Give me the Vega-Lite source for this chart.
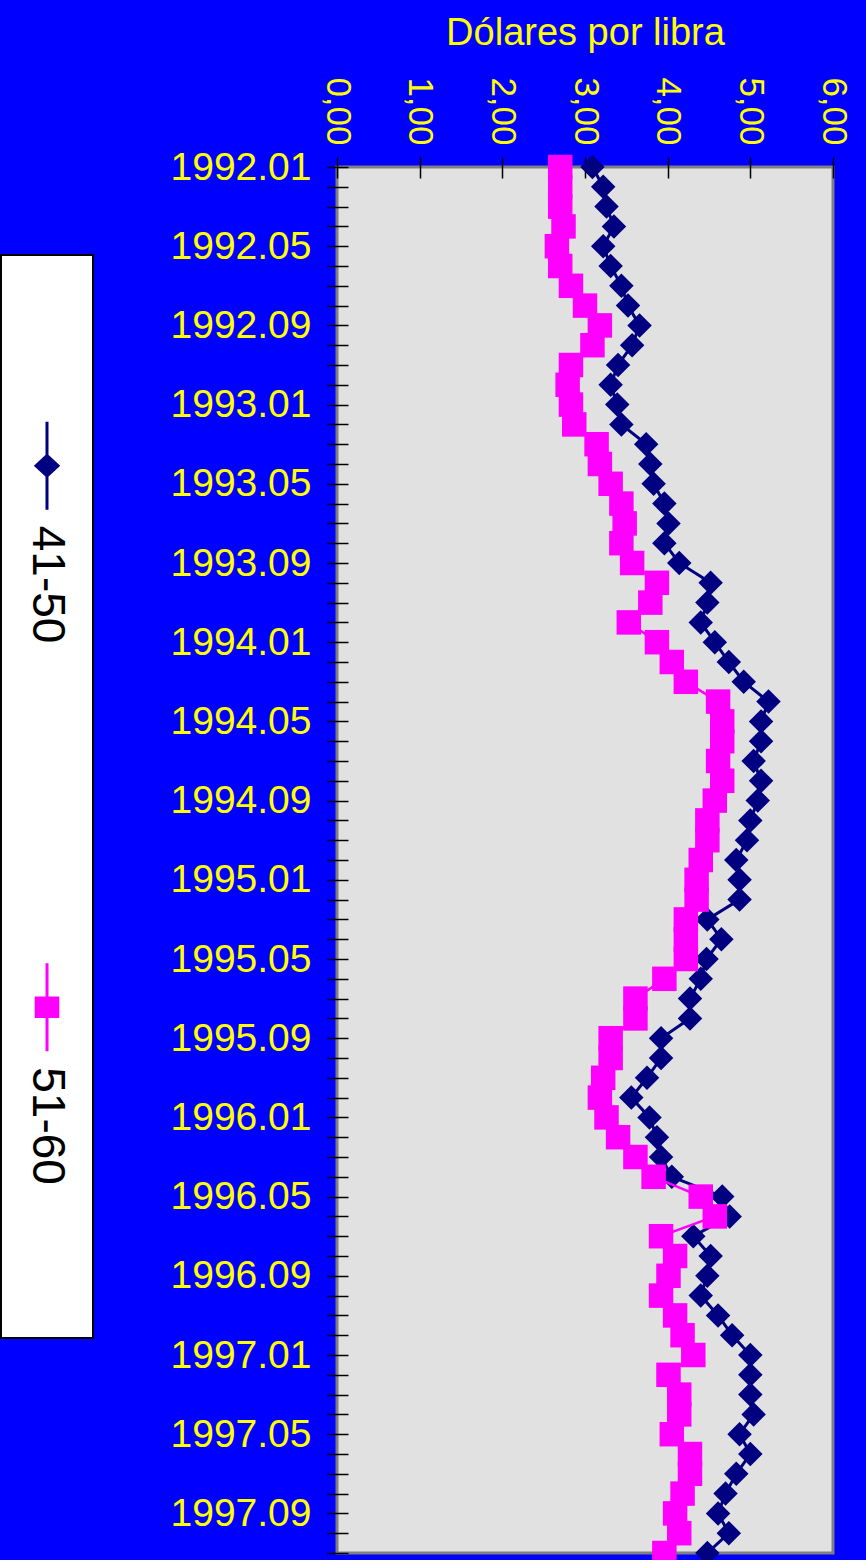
{
  "$schema": "https://vega.github.io/schema/vega-lite/v6.json",
  "background": "#0000FF",
  "padding": {"left": 0, "top": 0, "right": 40, "bottom": 0},
  "bounds": "flush",
  "spacing": 336,
  "config": {"font": "Liberation Sans"},
  "resolve": {"scale": {"shape": "independent", "color": "independent", "stroke": "independent"}},
  "hconcat": [
    {
      "spacing": 0,
      "bounds": "flush",
      "vconcat": [
        {"width": 92, "height": 255, "data": {"values": []}, "mark": "point", "view": {"stroke": null, "fill": null}},
        {
          "width": 92,
          "height": 1083,
          "view": {"fill": "#FFFFFF", "stroke": "#000000", "strokeWidth": 2},
          "data": {"values": [{"serie": "41-50"}, {"serie": "51-60"}]},
          "encoding": {
            "y": {"field": "serie", "type": "nominal", "scale": {"type": "point", "padding": 0.5}, "axis": null}
          },
          "layer": [
            {
              "mark": {"type": "point", "filled": true, "opacity": 1, "size": 7744, "strokeWidth": 3, "yOffset": -60},
              "encoding": {
                "shape": {"field": "serie", "type": "nominal", "legend": null,
                  "scale": {"domain": ["41-50", "51-60"], "range": ["M0,-1L0,1M-0.25,0L0,-0.23L0.25,0L0,0.23Z", "M0,-1L0,1M-0.245,-0.21L0.245,-0.21L0.245,0.21L-0.245,0.21Z"]}},
                "color": {"field": "serie", "type": "nominal", "legend": null,
                  "scale": {"domain": ["41-50", "51-60"], "range": ["#000080", "#FF00FF"]}},
                "stroke": {"field": "serie", "type": "nominal", "legend": null,
                  "scale": {"domain": ["41-50", "51-60"], "range": ["#000080", "#FF00FF"]}}
              }
            },
            {
              "mark": {"type": "text", "angle": 90, "align": "left", "baseline": "middle", "fontSize": 46, "font": "Liberation Sans", "color": "#000000"},
              "encoding": {"text": {"field": "serie"}}
            }
          ]
        }
      ]
    },
    {
      "spacing": 0,
      "bounds": "flush",
      "vconcat": [
        {"width": 496, "height": 167, "data": {"values": []}, "mark": "point", "view": {"stroke": null, "fill": null}},
        {
          "width": 496,
          "height": 1386,
          "view": {"fill": "#E1E1E1", "stroke": "#7F7F7F", "strokeWidth": 3},
          "data": {"values": [
            {"mes":"1992.01","serie":"41-50","valor":3.09},{"mes":"1992.02","serie":"41-50","valor":3.22},{"mes":"1992.03","serie":"41-50","valor":3.26},{"mes":"1992.04","serie":"41-50","valor":3.35},
            {"mes":"1992.05","serie":"41-50","valor":3.22},{"mes":"1992.06","serie":"41-50","valor":3.31},{"mes":"1992.07","serie":"41-50","valor":3.44},{"mes":"1992.08","serie":"41-50","valor":3.52},
            {"mes":"1992.09","serie":"41-50","valor":3.66},{"mes":"1992.10","serie":"41-50","valor":3.57},{"mes":"1992.11","serie":"41-50","valor":3.40},{"mes":"1992.12","serie":"41-50","valor":3.31},
            {"mes":"1993.01","serie":"41-50","valor":3.39},{"mes":"1993.02","serie":"41-50","valor":3.44},{"mes":"1993.03","serie":"41-50","valor":3.74},{"mes":"1993.04","serie":"41-50","valor":3.79},
            {"mes":"1993.05","serie":"41-50","valor":3.83},{"mes":"1993.06","serie":"41-50","valor":3.96},{"mes":"1993.07","serie":"41-50","valor":4.01},{"mes":"1993.08","serie":"41-50","valor":3.96},
            {"mes":"1993.09","serie":"41-50","valor":4.14},{"mes":"1993.10","serie":"41-50","valor":4.52},{"mes":"1993.11","serie":"41-50","valor":4.48},{"mes":"1993.12","serie":"41-50","valor":4.40},
            {"mes":"1994.01","serie":"41-50","valor":4.57},{"mes":"1994.02","serie":"41-50","valor":4.74},{"mes":"1994.03","serie":"41-50","valor":4.92},{"mes":"1994.04","serie":"41-50","valor":5.22},
            {"mes":"1994.05","serie":"41-50","valor":5.13},{"mes":"1994.06","serie":"41-50","valor":5.13},{"mes":"1994.07","serie":"41-50","valor":5.04},{"mes":"1994.08","serie":"41-50","valor":5.13},
            {"mes":"1994.09","serie":"41-50","valor":5.09},{"mes":"1994.10","serie":"41-50","valor":5.00},{"mes":"1994.11","serie":"41-50","valor":4.96},{"mes":"1994.12","serie":"41-50","valor":4.83},
            {"mes":"1995.01","serie":"41-50","valor":4.87},{"mes":"1995.02","serie":"41-50","valor":4.87},{"mes":"1995.03","serie":"41-50","valor":4.48},{"mes":"1995.04","serie":"41-50","valor":4.65},
            {"mes":"1995.05","serie":"41-50","valor":4.47},{"mes":"1995.06","serie":"41-50","valor":4.40},{"mes":"1995.07","serie":"41-50","valor":4.27},{"mes":"1995.08","serie":"41-50","valor":4.27},
            {"mes":"1995.09","serie":"41-50","valor":3.92},{"mes":"1995.10","serie":"41-50","valor":3.92},{"mes":"1995.11","serie":"41-50","valor":3.75},{"mes":"1995.12","serie":"41-50","valor":3.56},
            {"mes":"1996.01","serie":"41-50","valor":3.78},{"mes":"1996.02","serie":"41-50","valor":3.87},{"mes":"1996.03","serie":"41-50","valor":3.92},{"mes":"1996.04","serie":"41-50","valor":4.05},
            {"mes":"1996.05","serie":"41-50","valor":4.66},{"mes":"1996.06","serie":"41-50","valor":4.75},{"mes":"1996.07","serie":"41-50","valor":4.31},{"mes":"1996.08","serie":"41-50","valor":4.52},
            {"mes":"1996.09","serie":"41-50","valor":4.48},{"mes":"1996.10","serie":"41-50","valor":4.40},{"mes":"1996.11","serie":"41-50","valor":4.61},{"mes":"1996.12","serie":"41-50","valor":4.78},
            {"mes":"1997.01","serie":"41-50","valor":5.00},{"mes":"1997.02","serie":"41-50","valor":5.00},{"mes":"1997.03","serie":"41-50","valor":5.00},{"mes":"1997.04","serie":"41-50","valor":5.04},
            {"mes":"1997.05","serie":"41-50","valor":4.87},{"mes":"1997.06","serie":"41-50","valor":5.00},{"mes":"1997.07","serie":"41-50","valor":4.83},{"mes":"1997.08","serie":"41-50","valor":4.70},
            {"mes":"1997.09","serie":"41-50","valor":4.61},{"mes":"1997.10","serie":"41-50","valor":4.74},{"mes":"1997.11","serie":"41-50","valor":4.48},
            {"mes":"1992.01","serie":"51-60","valor":2.70},{"mes":"1992.02","serie":"51-60","valor":2.70},{"mes":"1992.03","serie":"51-60","valor":2.70},{"mes":"1992.04","serie":"51-60","valor":2.74},
            {"mes":"1992.05","serie":"51-60","valor":2.66},{"mes":"1992.06","serie":"51-60","valor":2.70},{"mes":"1992.07","serie":"51-60","valor":2.83},{"mes":"1992.08","serie":"51-60","valor":3.00},
            {"mes":"1992.09","serie":"51-60","valor":3.18},{"mes":"1992.10","serie":"51-60","valor":3.09},{"mes":"1992.11","serie":"51-60","valor":2.83},{"mes":"1992.12","serie":"51-60","valor":2.79},
            {"mes":"1993.01","serie":"51-60","valor":2.83},{"mes":"1993.02","serie":"51-60","valor":2.87},{"mes":"1993.03","serie":"51-60","valor":3.14},{"mes":"1993.04","serie":"51-60","valor":3.18},
            {"mes":"1993.05","serie":"51-60","valor":3.31},{"mes":"1993.06","serie":"51-60","valor":3.44},{"mes":"1993.07","serie":"51-60","valor":3.48},{"mes":"1993.08","serie":"51-60","valor":3.44},
            {"mes":"1993.09","serie":"51-60","valor":3.57},{"mes":"1993.10","serie":"51-60","valor":3.87},{"mes":"1993.11","serie":"51-60","valor":3.79},{"mes":"1993.12","serie":"51-60","valor":3.53},
            {"mes":"1994.01","serie":"51-60","valor":3.87},{"mes":"1994.02","serie":"51-60","valor":4.05},{"mes":"1994.03","serie":"51-60","valor":4.22},{"mes":"1994.04","serie":"51-60","valor":4.61},
            {"mes":"1994.05","serie":"51-60","valor":4.66},{"mes":"1994.06","serie":"51-60","valor":4.66},{"mes":"1994.07","serie":"51-60","valor":4.61},{"mes":"1994.08","serie":"51-60","valor":4.66},
            {"mes":"1994.09","serie":"51-60","valor":4.57},{"mes":"1994.10","serie":"51-60","valor":4.48},{"mes":"1994.11","serie":"51-60","valor":4.48},{"mes":"1994.12","serie":"51-60","valor":4.40},
            {"mes":"1995.01","serie":"51-60","valor":4.35},{"mes":"1995.02","serie":"51-60","valor":4.35},{"mes":"1995.03","serie":"51-60","valor":4.22},{"mes":"1995.04","serie":"51-60","valor":4.22},
            {"mes":"1995.05","serie":"51-60","valor":4.22},{"mes":"1995.06","serie":"51-60","valor":3.96},{"mes":"1995.07","serie":"51-60","valor":3.61},{"mes":"1995.08","serie":"51-60","valor":3.61},
            {"mes":"1995.09","serie":"51-60","valor":3.31},{"mes":"1995.10","serie":"51-60","valor":3.31},{"mes":"1995.11","serie":"51-60","valor":3.22},{"mes":"1995.12","serie":"51-60","valor":3.18},
            {"mes":"1996.01","serie":"51-60","valor":3.26},{"mes":"1996.02","serie":"51-60","valor":3.40},{"mes":"1996.03","serie":"51-60","valor":3.61},{"mes":"1996.04","serie":"51-60","valor":3.83},
            {"mes":"1996.05","serie":"51-60","valor":4.40},{"mes":"1996.06","serie":"51-60","valor":4.57},{"mes":"1996.07","serie":"51-60","valor":3.92},{"mes":"1996.08","serie":"51-60","valor":4.09},
            {"mes":"1996.09","serie":"51-60","valor":4.01},{"mes":"1996.10","serie":"51-60","valor":3.92},{"mes":"1996.11","serie":"51-60","valor":4.09},{"mes":"1996.12","serie":"51-60","valor":4.18},
            {"mes":"1997.01","serie":"51-60","valor":4.31},{"mes":"1997.02","serie":"51-60","valor":4.01},{"mes":"1997.03","serie":"51-60","valor":4.14},{"mes":"1997.04","serie":"51-60","valor":4.14},
            {"mes":"1997.05","serie":"51-60","valor":4.05},{"mes":"1997.06","serie":"51-60","valor":4.27},{"mes":"1997.07","serie":"51-60","valor":4.27},{"mes":"1997.08","serie":"51-60","valor":4.18},
            {"mes":"1997.09","serie":"51-60","valor":4.09},{"mes":"1997.10","serie":"51-60","valor":4.14},{"mes":"1997.11","serie":"51-60","valor":3.96}
          ]},
          "encoding": {
            "y": {
              "field": "mes", "type": "ordinal",
              "scale": {"type": "point", "padding": 0},
              "axis": {
                "orient": "left", "title": null, "domain": false, "grid": false,
                "labelExpr": "indexof(['01','05','09'], slice(datum.label, 5)) >= 0 ? datum.label : ''",
                "labelOverlap": false, "labelColor": "#FFFF00", "labelFontSize": 39, "labelFont": "Liberation Sans",
                "labelPadding": 16, "labelBaseline": "middle",
                "tickColor": "#000000", "tickSize": 21, "tickWidth": 1.5, "offset": -11
              }
            },
            "x": {
              "field": "valor", "type": "quantitative",
              "scale": {"domain": [0, 6], "nice": false, "zero": true},
              "axis": {
                "orient": "top", "values": [0, 1, 2, 3, 4, 5, 6], "domain": false, "grid": false,
                "labelExpr": "replace(format(datum.value, '.2f'), '.', ',')",
                "labelAngle": 90, "labelAlign": "right", "labelBaseline": "middle",
                "labelColor": "#FFFF00", "labelFontSize": 35, "labelFont": "Liberation Sans", "labelPadding": 12,
                "labelFlush": false, "labelOverlap": false,
                "tickColor": "#000000", "tickSize": 21, "tickWidth": 1.5, "offset": -11,
                "title": "Dólares por libra", "titleColor": "#FFFF00", "titleFontSize": 38,
                "titleFont": "Liberation Sans", "titleFontWeight": "normal", "titlePadding": 24
              }
            },
            "color": {
              "field": "serie", "type": "nominal", "legend": null,
              "scale": {"domain": ["41-50", "51-60"], "range": ["#000080", "#FF00FF"]}
            },
            "order": {"field": "mes", "type": "ordinal"}
          },
          "layer": [
            {"transform": [{"filter": "datum.serie === '41-50'"}], "mark": {"type": "line", "strokeWidth": 3}},
            {"transform": [{"filter": "datum.serie === '41-50'"}], "mark": {"type": "point", "filled": true, "opacity": 1, "size": 600, "shape": "diamond"}},
            {"transform": [{"filter": "datum.serie === '51-60'"}], "mark": {"type": "line", "strokeWidth": 2.5}},
            {"transform": [{"filter": "datum.serie === '51-60'"}], "mark": {"type": "point", "filled": true, "opacity": 1, "size": 600, "shape": "square"}}
          ]
        }
      ]
    }
  ]
}
